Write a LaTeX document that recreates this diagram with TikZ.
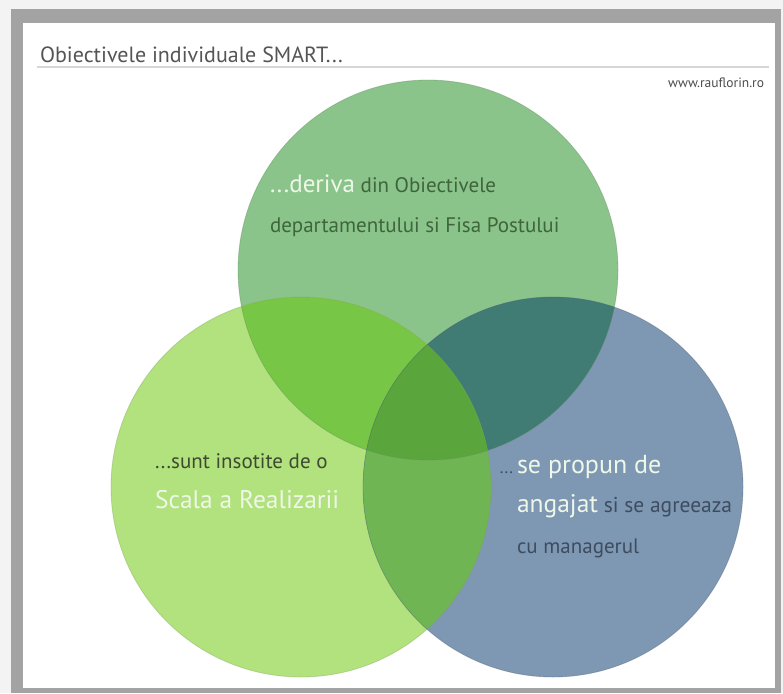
\documentclass[tikz,border=0pt]{standalone}
\usepackage{fontspec}
\setmainfont{PT Sans}
\definecolor{pagebg}{HTML}{F3F3F3}
\definecolor{framegray}{HTML}{A3A3A3}
\definecolor{ctop}{HTML}{8AC48A}
\definecolor{cleft}{HTML}{B2E27D}
\definecolor{cright}{HTML}{7E98B4}
\definecolor{ctl}{HTML}{78C645}
\definecolor{ctr}{HTML}{407C73}
\definecolor{clr}{HTML}{70B554}
\definecolor{cmid}{HTML}{5AA63C}
\definecolor{txtop}{HTML}{3E653C}
\definecolor{txleft}{HTML}{3D4A30}
\definecolor{txright}{HTML}{3E4C60}
\definecolor{txlight}{HTML}{EEF7E8}
\definecolor{titlegray}{HTML}{555555}
\tikzset{
  lbl/.style={anchor=base west, inner sep=0pt, outer sep=0pt},
  rim/.style={line width=0.8pt, draw opacity=0.35}
}
\newcommand{\fs}[1]{\fontsize{#1}{#1}\selectfont}
\begin{document}
\begin{tikzpicture}[x=1pt,y=-1pt]
\useasboundingbox (0,0) rectangle (783,693);
\fill[pagebg] (0,0) rectangle (783,693);
\fill[framegray] (11,9) rectangle (781,693);
\fill[white] (23,23) rectangle (775,688);
% title
\node[lbl, font=\fs{22}, text=titlegray] (title) at (40,62) {Obiectivele individuale SMART...};
\coordinate (ls) at (37,67);
\coordinate (le) at (769,67);
\draw[line width=1.6pt, black!16] (ls) -- (le);
\node[lbl, font=\fs{13.5}, text=black!70, anchor=base east] (site) at (764,87) {www.rauflorin.ro};
% circles
\coordinate (T) at (428,270);
\coordinate (L) at (301,487);
\coordinate (R) at (553,487);
\def\rr{190pt}
\fill[ctop] (T) circle[radius=\rr];
\fill[cleft] (L) circle[radius=\rr];
\fill[cright] (R) circle[radius=\rr];
\begin{scope}
  \clip (T) circle[radius=\rr];
  \fill[ctl] (L) circle[radius=\rr];
  \fill[ctr] (R) circle[radius=\rr];
\end{scope}
\begin{scope}
  \clip (L) circle[radius=\rr];
  \fill[clr] (R) circle[radius=\rr];
  \clip (R) circle[radius=\rr];
  \fill[cmid] (T) circle[radius=\rr];
\end{scope}
\draw[rim, draw=ctop!70!black] (T) circle[radius=\rr];
\draw[rim, draw=cleft!70!black] (L) circle[radius=\rr];
\draw[rim, draw=cright!60!black] (R) circle[radius=\rr];
% top text
\node[lbl, font=\fs{21}, text=txtop] (t1) at (270,192)
  {{\color{txlight}\fs{25}...deriva} din Obiectivele};
\node[lbl, font=\fs{21}, text=txtop] (t2) at (270,232)
  {departamentului si Fisa Postului};
% left text
\node[lbl, font=\fs{21}, text=txleft] (l1) at (155,468)
  {...sunt insotite de o};
\node[lbl, font=\fs{25.5}, text=txlight] (l2) at (155,508)
  {Scala a Realizarii};
% right text
\node[lbl, font=\fs{17}, text=txright, anchor=base east] (r0) at (513,473) {...};
\node[lbl, font=\fs{26}, text=txlight] (r1) at (517,473)
  {se propun de};
\node[lbl, font=\fs{21.5}, text=txright] (r2) at (517,512)
  {{\color{txlight}\fs{25.5}angajat} si se agreeaza};
\node[lbl, font=\fs{21}, text=txright] (r3) at (517,553)
  {cu managerul};
\end{tikzpicture}
\end{document}
